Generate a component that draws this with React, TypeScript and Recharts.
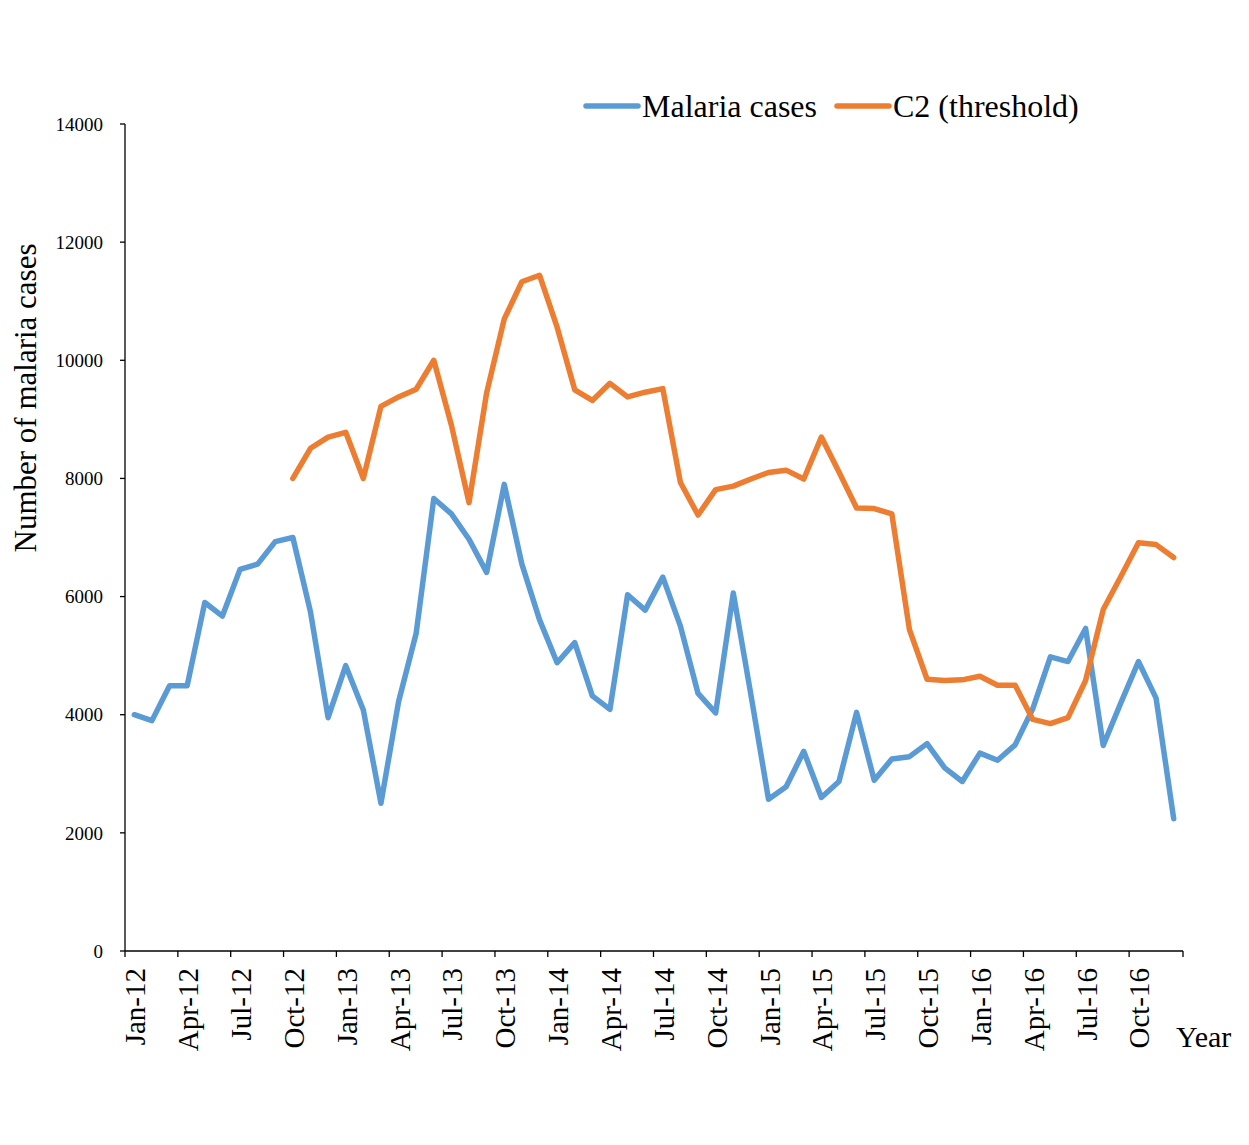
import { CartesianGrid, Legend, Line, LineChart, XAxis, YAxis } from "recharts";

const months = [
  "Jan-12", "Feb-12", "Mar-12", "Apr-12", "May-12", "Jun-12", "Jul-12", "Aug-12", "Sep-12", "Oct-12", "Nov-12", "Dec-12",
  "Jan-13", "Feb-13", "Mar-13", "Apr-13", "May-13", "Jun-13", "Jul-13", "Aug-13", "Sep-13", "Oct-13", "Nov-13", "Dec-13",
  "Jan-14", "Feb-14", "Mar-14", "Apr-14", "May-14", "Jun-14", "Jul-14", "Aug-14", "Sep-14", "Oct-14", "Nov-14", "Dec-14",
  "Jan-15", "Feb-15", "Mar-15", "Apr-15", "May-15", "Jun-15", "Jul-15", "Aug-15", "Sep-15", "Oct-15", "Nov-15", "Dec-15",
  "Jan-16", "Feb-16", "Mar-16", "Apr-16", "May-16", "Jun-16", "Jul-16", "Aug-16", "Sep-16", "Oct-16", "Nov-16", "Dec-16",
];

const malariaCases = [
  4000, 3900, 4490, 4490, 5900, 5670, 6460, 6550, 6930, 7000, 5740, 3950,
  4830, 4080, 2500, 4220, 5380, 7660, 7400, 6970, 6410, 7900, 6550, 5610,
  4880, 5220, 4320, 4090, 6030, 5770, 6330, 5500, 4360, 4030, 6060, 4340,
  2570, 2780, 3380, 2600, 2870, 4040, 2890, 3250, 3290, 3510, 3100, 2870,
  3350, 3230, 3490, 4100, 4980, 4900, 5460, 3480, 4200, 4900, 4280, 2240,
];

const c2Threshold: (number | null)[] = [
  null, null, null, null, null, null, null, null, null, 8000, 8510, 8700,
  8780, 8000, 9220, 9380, 9510, 10000, 8900, 7590, 9450, 10700, 11330, 11440,
  10560, 9500, 9320, 9610, 9380, 9460, 9520, 7930, 7380, 7810, 7870, 7990,
  8100, 8140, 7990, 8700, 8110, 7500, 7490, 7400, 5440, 4600, 4580, 4590,
  4650, 4500, 4500, 3920, 3850, 3950, 4580, 5780, 6340, 6910, 6880, 6660,
];

const yTicks = [0, 2000, 4000, 6000, 8000, 10000, 12000, 14000];

const data = months.map((month, i) => ({
  month,
  malaria: malariaCases[i],
  c2: c2Threshold[i],
}));

const BLUE = "#5B9BD5";
const ORANGE = "#ED7D31";
const FONT = "'Liberation Serif', 'Times New Roman', serif";

const WIDTH = 1249;
const HEIGHT = 1145;
const margin = { top: 124, right: 66, bottom: 94, left: 65 };
const plotWidth = WIDTH - margin.left - margin.right;
const band = plotWidth / months.length;

const MonthTick = (props: any) => {
  const { x, y, payload, index } = props;
  const i = typeof index === "number" ? index : payload.index;
  const parts = [];
  if (i % 3 === 0) {
    parts.push(<line key="t" x1={x - band / 2} x2={x - band / 2} y1={y} y2={y + 6} stroke="#000" strokeWidth={1.3} />);
    parts.push(
      <text
        key="l"
        transform={`translate(${x + 1},${y + 17}) rotate(-90)`}
        textAnchor="end"
        dominantBaseline="central"
        fontSize={29}
        fill="#000"
        fontFamily={FONT}
      >
        {payload.value}
      </text>
    );
  }
  if (i === months.length - 1) {
    parts.push(<line key="e" x1={x + band / 2} x2={x + band / 2} y1={y} y2={y + 6} stroke="#000" strokeWidth={1.3} />);
  }
  return <g>{parts}</g>;
};

const LegendContent = () => (
  <div style={{ display: "flex", alignItems: "center", height: 40, fontFamily: FONT, fontSize: 32, color: "#000", whiteSpace: "nowrap" }}>
    <svg width={58} height={10}>
      <line x1={3} x2={55} y1={5} y2={5} stroke={BLUE} strokeWidth={5.5} strokeLinecap="round" />
    </svg>
    <span style={{ marginLeft: 1 }}>Malaria cases</span>
    <svg width={58} height={10} style={{ marginLeft: 17 }}>
      <line x1={3} x2={55} y1={5} y2={5} stroke={ORANGE} strokeWidth={5.5} strokeLinecap="round" />
    </svg>
    <span style={{ marginLeft: 1 }}>C2 (threshold)</span>
  </div>
);

export default function App() {
  return (
    <div style={{ position: "relative", margin: -8, width: WIDTH, height: HEIGHT, fontFamily: FONT, background: "#fff" }}>
      <LineChart width={WIDTH} height={HEIGHT} data={data} margin={margin}>
        <CartesianGrid horizontal={false} vertical={false} />
        <XAxis
          dataKey="month"
          interval={0}
          height={100}
          padding={{ left: band / 2, right: band / 2 }}
          tickSize={0}
          tickMargin={0}
          tickLine={false}
          axisLine={{ stroke: "#000", strokeWidth: 1.3 }}
          tick={<MonthTick />}
          label={{
            content: ({ viewBox }: any) => (
              <text x={viewBox.x + viewBox.width - 7} y={1047} fontSize={30} fill="#000" fontFamily={FONT}>
                Year
              </text>
            ),
          }}
        />
        <YAxis
          width={60}
          domain={[0, 14000]}
          ticks={yTicks}
          interval={0}
          tickSize={5}
          tickMargin={17}
          tick={{ fontSize: 19, fill: "#000", fontFamily: FONT }}
          tickLine={{ stroke: "#000", strokeWidth: 1.3 }}
          axisLine={{ stroke: "#000", strokeWidth: 1.3 }}
          label={{
            content: ({ viewBox }: any) => (
              <text
                transform={`translate(${viewBox.x - 40},${viewBox.y + 274}) rotate(-90)`}
                textAnchor="middle"
                dominantBaseline="central"
                fontSize={31}
                fill="#000"
                fontFamily={FONT}
              >
                Number of malaria cases
              </text>
            ),
          }}
        />
        <Legend
          verticalAlign="middle"
          layout="horizontal"
          content={<LegendContent />}
          wrapperStyle={{ position: "absolute", top: 86, left: 583, width: "auto" }}
        />
        <Line
          type="linear"
          dataKey="malaria"
          name="Malaria cases"
          stroke={BLUE}
          strokeWidth={5.5}
          dot={false}
          activeDot={false}
          strokeLinejoin="round"
          strokeLinecap="round"
          isAnimationActive={false}
        />
        <Line
          type="linear"
          dataKey="c2"
          name="C2 (threshold)"
          stroke={ORANGE}
          strokeWidth={5.5}
          dot={false}
          activeDot={false}
          strokeLinejoin="round"
          strokeLinecap="round"
          isAnimationActive={false}
        />
      </LineChart>
      <div
        style={{
          position: "absolute",
          inset: 0,
          borderLeft: "2px solid #dcdcdc",
          borderTop: "1px solid #e4e4e4",
          borderRight: "2px solid #e4e4e4",
          pointerEvents: "none",
        }}
      />
    </div>
  );
}
